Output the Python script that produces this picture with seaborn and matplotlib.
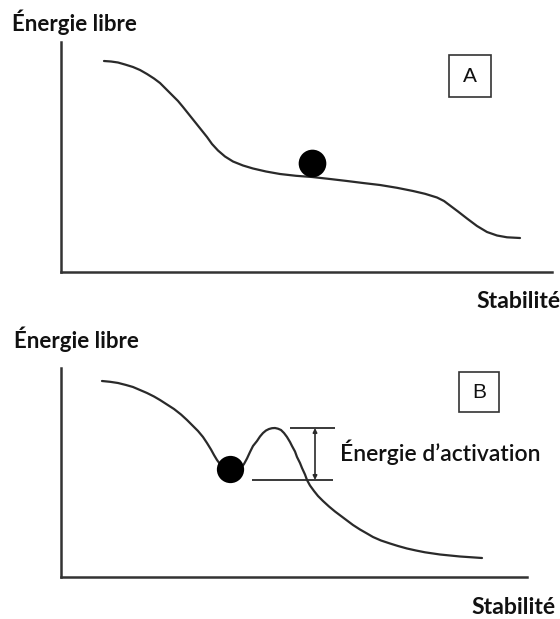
import matplotlib
matplotlib.use("Agg")
import matplotlib.pyplot as plt
from matplotlib.patches import Rectangle
import numpy as np
import pandas as pd
import seaborn as sns

# ---------------- data ----------------
# Panel A : smooth descent with a plateau (ball on the plateau)
stab_a = [43, 50, 57, 64, 72, 79, 86, 93, 99, 105, 111, 117, 122, 128, 134, 140, 146,
          151, 157, 164, 172, 182, 192, 205, 219, 235, 251, 269, 286, 302, 319, 336,
          352, 364, 376, 383, 389, 397, 406, 416, 426, 436, 446, 459]
energie_a = [211, 210.5, 209.5, 207.5, 205, 202, 198, 193.5, 189, 183, 177, 171, 165,
             157.5, 150, 142.5, 135, 128, 121.5, 115.5, 110.5, 106.5, 103.5, 100.5, 98,
             96.2, 95, 93, 91, 89, 87, 84.2, 81, 78.2, 74.5, 71, 66.5, 60.5, 53.5, 46,
             40, 36.5, 34.7, 34]
ball_a = {"stab": [251], "energie": [109]}

# Panel B : local minimum (ball in the well) followed by a barrier
stab_b = [41, 49, 57, 65, 72, 79, 86, 93, 99, 106, 113, 120, 126, 132, 137, 142, 146,
          150, 153, 156, 159, 162, 165, 168, 171, 174, 177, 180, 183, 186, 189, 192,
          196, 199, 202, 205, 208, 211, 214, 217, 220, 223, 226, 229, 231, 234, 236,
          239, 241, 244, 246, 249, 253, 257, 262, 268, 274, 280, 286, 292, 299, 306,
          312, 320, 329, 337, 346, 355, 364, 379, 399, 421]
energie_b = [196, 195.2, 194, 192, 190, 187, 184, 180.5, 177, 172.5, 168, 162.5, 157,
             151, 146, 140, 134, 127.5, 122, 117, 113, 109, 106, 104.5, 104, 104.5, 106,
             109, 113, 118.5, 125, 131, 136, 140.5, 144, 146.5, 148, 148.8, 149, 148.3,
             147, 144, 140, 135, 131, 125.5, 120, 114, 109, 102.5, 97, 91.5, 86, 81, 76,
             70.5, 65.5, 61, 56.5, 52, 47.5, 43.5, 40, 36.5, 33.5, 31, 28.5, 26.5, 24.7,
             22.5, 20.5, 19]
ball_b = {"stab": [169], "energie": [108]}

# activation energy bracket (barrier top / well bottom levels)
barrier_top = 149
well_level = 97

panel_labels = ["A", "B"]
y_label = "Énergie libre"
x_label = "Stabilité"
activation_label = "Énergie d’activation"

# ---------------- figure ----------------
sns.set_theme(style="white")
plt.rcParams["font.family"] = ["Lato", "DejaVu Sans"]

W, H = 560, 619
fig = plt.figure(figsize=(W / 100, H / 100), dpi=100)
fig.patch.set_facecolor("white")

LINE = "#2a2a2a"
AX = "#333333"


def make_axes(left, top, right, bottom):
    ax = fig.add_axes([left / W, 1 - bottom / H, (right - left) / W, (bottom - top) / H])
    ax.set_xlim(0, right - left)
    ax.set_ylim(0, bottom - top)
    for s in ["top", "right"]:
        ax.spines[s].set_visible(False)
    for s in ["left", "bottom"]:
        ax.spines[s].set_color(AX)
        ax.spines[s].set_linewidth(1.8)
    ax.set_xticks([])
    ax.set_yticks([])
    ax.patch.set_alpha(0)
    return ax


# Panel A
axA = make_axes(61, 42, 552, 272)
dfA = pd.DataFrame({"stab": stab_a, "energie": energie_a})
sns.lineplot(data=dfA, x="stab", y="energie", ax=axA, sort=False, estimator=None,
             color=LINE, linewidth=1.6)
sns.scatterplot(data=pd.DataFrame(ball_a), x="stab", y="energie", ax=axA,
                s=340, color="black", edgecolor="black", zorder=5, legend=False)
axA.set_xlabel("")
axA.set_ylabel("")

# Panel B
axB = make_axes(61, 368, 527, 577)
dfB = pd.DataFrame({"stab": stab_b, "energie": energie_b})
sns.lineplot(data=dfB, x="stab", y="energie", ax=axB, sort=False, estimator=None,
             color=LINE, linewidth=1.6)
sns.scatterplot(data=pd.DataFrame(ball_b), x="stab", y="energie", ax=axB,
                s=330, color="black", edgecolor="black", zorder=5, legend=False)
axB.set_xlabel("")
axB.set_ylabel("")

# bracket
axB.hlines(barrier_top, 229, 274, color=LINE, linewidth=1.3)
axB.hlines(well_level, 191, 272, color=LINE, linewidth=1.3)
axB.annotate("", xy=(254, barrier_top), xytext=(254, well_level),
             arrowprops=dict(arrowstyle="<|-|>", color=LINE, lw=1.2,
                             mutation_scale=6, shrinkA=0, shrinkB=0))
axB.text(279, (barrier_top + well_level) / 2 + 2, activation_label, fontsize=16.5,
         color="#111111", va="center", ha="left", fontweight="semibold")

# texts
def ftext(x, y, s, **kw):
    fig.text(x / W, 1 - y / H, s, **kw)

ftext(12, 22, y_label, fontsize=16, fontweight="bold", va="center", ha="left", color="#111111")
ftext(14, 339, y_label, fontsize=16, fontweight="bold", va="center", ha="left", color="#111111")
ftext(476, 302, x_label, fontsize=16.6, fontweight="bold", va="center", ha="left", color="#111111")
ftext(471, 607, x_label, fontsize=16.6, fontweight="bold", va="center", ha="left", color="#111111")

# boxed panel letters
for (l, t, r, b), lab in zip([(449, 55, 491, 97), (459, 372, 499, 412)], panel_labels):
    fig.add_artist(Rectangle((l / W, 1 - b / H), (r - l) / W, (b - t) / H,
                             transform=fig.transFigure, fill=False,
                             edgecolor="#333333", linewidth=1.2))
    ftext((l + r) / 2, (t + b) / 2 + 1, lab, fontsize=15, va="center", ha="center",
          color="#111111", family=["Liberation Sans", "DejaVu Sans"])

fig.savefig("out.png", dpi=100, facecolor="white")
